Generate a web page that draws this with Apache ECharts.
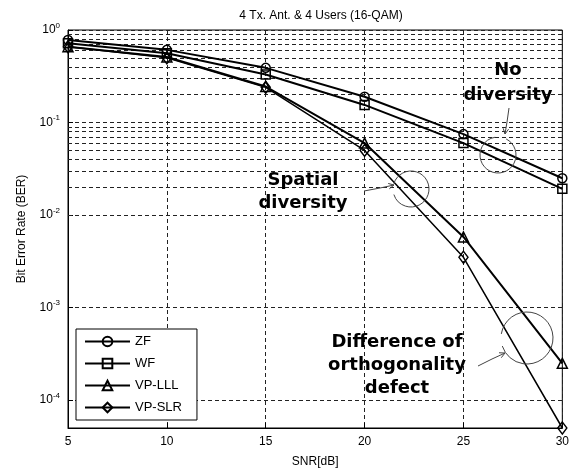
<!DOCTYPE html>
<html>
<head>
<meta charset="utf-8">
<script src="https://cdn.jsdelivr.net/npm/echarts@6/dist/echarts.min.js"></script>
<style>html,body{margin:0;padding:0;background:#fff}#c{width:572px;height:473px}</style>
</head>
<body>
<div id="c"></div>
<script>
const snr = [5, 10, 15, 20, 25, 30];
const zf = [0.78, 0.61, 0.39, 0.19, 0.075, 0.025];
const wf = [0.72, 0.56, 0.33, 0.155, 0.060, 0.0192];
const vpLLL = [0.66, 0.51, 0.245, 0.06, 0.0058, 0.00025];
const vpSLR = [0.66, 0.50, 0.24, 0.05, 0.0035, 0.00005];
const seriesNames = ['ZF', 'WF', 'VP-LLL', 'VP-SLR'];
const yMin = 0.00005, yMax = 1;

const minorGrid = [];
for (let e = -5; e < 0; e++) {
  for (let k = 2; k <= 9; k++) {
    const v = k * Math.pow(10, e);
    if (v > yMin && v < yMax) minorGrid.push(v);
  }
}

const FONT = 'Liberation Sans';
const ANN = 'DejaVu Sans';
const chart = echarts.init(document.getElementById('c'), null, {renderer: 'canvas'});

function mk(name, ys, symbol, size, lw) {
  return {
    name: name, type: 'line', data: snr.map((x, i) => [x, ys[i]]),
    symbol: symbol, symbolSize: size, showSymbol: true,
    lineStyle: {color: '#000', width: lw},
    itemStyle: {color: 'rgba(255,255,255,0)', borderColor: '#000', borderWidth: 1.5},
    emphasis: {disabled: true}, z: 5
  };
}

const series = [
  mk(seriesNames[0], zf, 'circle', 9, 2),
  mk(seriesNames[1], wf, 'rect', 9, 2),
  mk(seriesNames[2], vpLLL, 'triangle', 10, 2),
  mk(seriesNames[3], vpSLR, 'diamond', [9, 12], 1.5)
];
series[0].markLine = {
  silent: true, symbol: ['none', 'none'], label: {show: false}, animation: false,
  lineStyle: {color: '#222', type: [4, 3], width: 1},
  data: minorGrid.map(v => ({yAxis: v}))
};

function arrowHead(x1, y1, x2, y2, len) {
  const a = Math.atan2(y2 - y1, x2 - x1);
  const a1 = a + Math.PI * 0.85, a2 = a - Math.PI * 0.85;
  return [[x2 + len * Math.cos(a1), y2 + len * Math.sin(a1)], [x2, y2], [x2 + len * Math.cos(a2), y2 + len * Math.sin(a2)]];
}
const annStroke = {stroke: '#444', lineWidth: 1, fill: 'none'};
const annFont = 'bold 18px "' + ANN + '"';
function annText(x, y, t) {
  return {type: 'text', x: x, y: y, z: 10, style: {text: t, font: annFont, fill: '#000', textAlign: 'center', textVerticalAlign: 'middle'}};
}

chart.setOption({
  animation: false,
  backgroundColor: '#fff',
  title: {
    text: '4 Tx. Ant. & 4 Users (16-QAM)', left: 316, top: 5, textAlign: 'center',
    textStyle: {fontFamily: FONT, fontSize: 12, fontWeight: 'normal', color: '#000'}
  },
  grid: {left: 68, right: 9, top: 30, bottom: 45, show: true, borderColor: '#000', borderWidth: 1, backgroundColor: '#fff'},
  legend: {
    orient: 'vertical', left: 76, top: 329, data: seriesNames,
    itemWidth: 45, itemHeight: 12, itemGap: 9,
    padding: [6, 15, 6, 8],
    backgroundColor: '#fff', borderColor: '#000', borderWidth: 1,
    textStyle: {fontFamily: FONT, fontSize: 13, color: '#000'}
  },
  xAxis: {
    type: 'value', min: 5, max: 30, interval: 5,
    name: 'SNR[dB]', nameLocation: 'middle', nameGap: 28,
    nameTextStyle: {fontFamily: FONT, fontSize: 12, color: '#000'},
    axisLine: {lineStyle: {color: '#000', width: 1}},
    axisTick: {inside: true, length: 5, lineStyle: {color: '#000'}},
    axisLabel: {fontFamily: FONT, fontSize: 12, color: '#000', margin: 8},
    splitLine: {show: true, lineStyle: {color: '#222', type: [4, 3], width: 1}}
  },
  yAxis: {
    type: 'log', logBase: 10, min: yMin, max: yMax,
    name: 'Bit Error Rate (BER)', nameLocation: 'middle', nameGap: 40,
    nameTextStyle: {fontFamily: FONT, fontSize: 12, color: '#000'},
    axisLine: {show: true, lineStyle: {color: '#000', width: 1}},
    axisTick: {inside: true, length: 5, lineStyle: {color: '#000'}},
    axisLabel: {
      margin: 8, color: '#000',
      formatter: function (v) {
        const l = Math.log10(v), e = Math.round(l);
        if (Math.abs(l - e) > 1e-6) return '';
        return '{b|10}{s|' + e + '}';
      },
      rich: {
        b: {fontFamily: FONT, fontSize: 12, color: '#000'},
        s: {fontFamily: FONT, fontSize: 8, color: '#000', padding: [0, 0, 9, 0]}
      }
    },
    splitLine: {show: true, lineStyle: {color: '#222', type: [4, 3], width: 1}}
  },
  series: series,
  graphic: [
    annText(508, 70, 'No'),
    annText(508, 95, 'diversity'),
    annText(303, 180, 'Spatial'),
    annText(303, 203, 'diversity'),
    annText(397, 342, 'Difference of'),
    annText(397, 365, 'orthogonality'),
    annText(397, 388, 'defect'),
    {type: 'arc', shape: {cx: 498, cy: 155, r: 18, startAngle: -Math.PI * 0.35, endAngle: Math.PI * 1.45}, style: annStroke, z: 10},
    {type: 'polyline', shape: {points: [[509, 108], [507, 122], [505, 134]]}, style: annStroke, z: 10},
    {type: 'polyline', shape: {points: arrowHead(507, 122, 505, 134, 6)}, style: annStroke, z: 10},
    {type: 'arc', shape: {cx: 411, cy: 189, r: 18, startAngle: Math.PI * 1.1, endAngle: Math.PI * 2.9}, style: annStroke, z: 10},
    {type: 'polyline', shape: {points: [[364, 191], [380, 188], [394, 185]]}, style: annStroke, z: 10},
    {type: 'polyline', shape: {points: arrowHead(380, 188, 394, 185, 6)}, style: annStroke, z: 10},
    {type: 'arc', shape: {cx: 527, cy: 338, r: 26, startAngle: Math.PI * 1.05, endAngle: Math.PI * 2.9}, style: annStroke, z: 10},
    {type: 'polyline', shape: {points: [[478, 366], [492, 359], [505, 353]]}, style: annStroke, z: 10},
    {type: 'polyline', shape: {points: arrowHead(492, 359, 505, 353, 6)}, style: annStroke, z: 10}
  ]
});
</script>
</body>
</html>
